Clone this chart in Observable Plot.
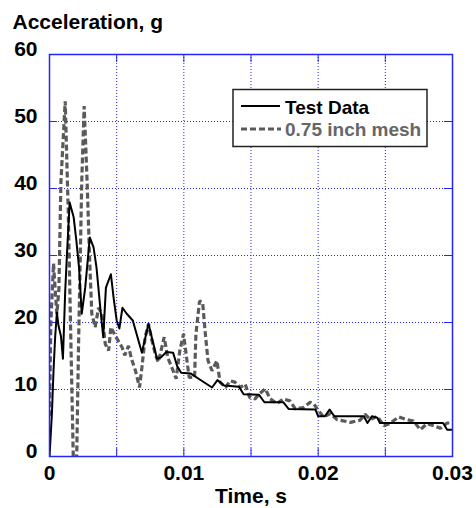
<!DOCTYPE html>
<html><head><meta charset="utf-8">
<script src="https://cdn.jsdelivr.net/npm/d3@7"></script>
<script src="https://cdn.jsdelivr.net/npm/@observablehq/plot@0.6"></script>
<style>body{margin:0;background:#fff;color:#000}</style>
</head><body><div id="chart"></div>
<script>
// Test Data (solid black)
const testTime = [0,0.00018,0.0003,0.00042,0.00055,0.00067,0.00085,0.001,0.00117,0.0013,0.0015,0.0018,0.002,0.0022,0.0024,0.00266,0.003,0.00328,0.0035,0.00378,0.004,0.0042,0.00457,0.00477,0.005,0.0052,0.00543,0.00575,0.0062,0.00688,0.00737,0.008,0.0083,0.0087,0.0092,0.0095,0.0098,0.0105,0.0111,0.0121,0.0125,0.013,0.0141,0.01445,0.0156,0.016,0.0174,0.0178,0.0198,0.02,0.0205,0.02085,0.0212,0.0234,0.02367,0.024,0.0244,0.0246,0.0293,0.0296,0.03];
const testAccel = [0,6.4,12.8,17.8,21.5,19.5,18,14.6,24.7,30.2,37.9,35.7,32.2,28.2,21.3,25.2,32.7,31.2,28.2,22.2,17.8,25.2,27.2,23.7,20.3,19.1,22.2,21.3,20.3,15.5,19.8,14.6,14.8,15.6,15.5,13.5,12.5,12.4,11.6,10.3,11.4,10.6,10.4,9.3,9.2,8.1,8.1,7.1,7.0,6.0,6.0,7.0,6.0,6.0,5.0,6.0,5.8,5.0,5.0,4.0,4.0];
// 0.75 inch mesh (dashed gray)
const meshTime = [0,0.0001,0.0003,0.00045,0.00055,0.0007,0.00085,0.00117,0.0014,0.0016,0.0018,0.002,0.00216,0.0024,0.00258,0.0028,0.003,0.00315,0.0034,0.00365,0.0039,0.00415,0.0044,0.00457,0.0049,0.0054,0.0056,0.00588,0.0061,0.0064,0.0067,0.00688,0.00712,0.00737,0.0076,0.0079,0.0081,0.00854,0.0088,0.0092,0.00943,0.0097,0.00998,0.0102,0.0104,0.0108,0.0109,0.01117,0.0114,0.0116,0.0118,0.0121,0.01246,0.0127,0.0131,0.01345,0.0138,0.0142,0.01457,0.0149,0.0153,0.0156,0.01606,0.01643,0.01693,0.0174,0.0179,0.0183,0.0189,0.0194,0.0197,0.02,0.0204,0.0209,0.0214,0.0224,0.0231,0.0235,0.0239,0.0244,0.0249,0.0253,0.026,0.0266,0.0271,0.0276,0.0281,0.0286,0.0291,0.0296,0.03];
const meshAccel = [6,20,28.8,24,21.3,25,41,53,36.2,16.3,-3,-3,16.3,41,52.3,41,28.8,21.3,19.3,22.2,21.3,16.8,15.8,19.3,18.0,16.3,15.1,16.5,14.6,12.8,10.3,13.3,17.8,19.8,17.5,15.1,14.1,17.8,14.8,12.8,11.6,15.8,18.3,14.8,11.8,11.8,18.3,23.2,23.0,18.3,14.3,12.8,14.3,11.1,10.3,11.3,11.1,10.3,10.8,8.8,8.6,9.3,10.1,8.6,7.9,8.6,8.3,7.1,7.3,8.1,7.8,6.9,5.9,6.4,5.5,5.1,5.4,6.3,5.5,6.0,4.6,4.9,5.9,5.5,5.3,4.0,4.9,4.6,4.2,5.0,5.0];
const xGrid = [0,0.005,0.01,0.015,0.02,0.025,0.03];
const xLabelTicks = [0,0.01,0.02,0.03];
const xLabelText = ["0","0.01","0.02","0.03"];
const yTicks = [0,10,20,30,40,50,60];
const seriesNames = ["Test Data","0.75 inch mesh"];

const test = testTime.map((t,i)=>({t, a:testAccel[i]}));
const mesh = meshTime.map((t,i)=>({t, a:meshAccel[i]}));

const BLUE = "#2424ff";
const GRAY = "#5a5a5a";
const FONT = "'Liberation Sans', Arial, sans-serif";
const W = 476, H = 508, ML = 49, MR = 24, MT = 54, MB = 52;
const PW = W-ML-MR, PH = H-MT-MB, TK = 8;

const chart = Plot.plot({
  width: W, height: H,
  marginLeft: ML, marginRight: MR, marginTop: MT, marginBottom: MB,
  style: {fontFamily: FONT, background: "#fff", color: "#000"},
  x: {domain: [0,0.03]},
  y: {domain: [0,60]},
  marks: [
    Plot.gridX(xGrid, {stroke: BLUE, strokeOpacity: 1, strokeDasharray: "1,2", strokeWidth: 1}),
    Plot.gridY(yTicks, {stroke: BLUE, strokeOpacity: 1, strokeDasharray: "1,2", strokeWidth: 1}),
    Plot.tickY(yTicks, {y: d=>d, stroke: BLUE, insetRight: PW-TK}),
    Plot.tickY(yTicks, {y: d=>d, stroke: BLUE, insetLeft: PW-TK}),
    Plot.tickX(xGrid, {x: d=>d, stroke: BLUE, insetBottom: PH-TK}),
    Plot.tickX(xGrid, {x: d=>d, stroke: BLUE, insetTop: PH-TK}),
    Plot.line(mesh, {x: "t", y: "a", stroke: GRAY, strokeWidth: 3.2, strokeDasharray: "6,3", strokeLinecap: "butt", strokeLinejoin: "miter", clip: true}),
    Plot.line(test, {x: "t", y: "a", stroke: "#000", strokeWidth: 2, clip: true}),
    Plot.frame({stroke: BLUE, strokeWidth: 1.5}),
    Plot.axisY(yTicks, {tickSize: 0, tickPadding: 12, fontSize: 21, fontWeight: "bold", dy: -5, label: null}),
    Plot.axisX(xLabelTicks, {tickSize: 0, tickPadding: 9, fontSize: 21, fontWeight: "bold", label: null, tickFormat: d=>xLabelText[xLabelTicks.indexOf(d)]}),
    Plot.text(["Acceleration, g"], {text: d=>d, frameAnchor: "top-left", dx: -37, dy: -32, textAnchor: "start", lineAnchor: "middle", fontSize: 21, fontWeight: "bold"}),
    Plot.text(["Time, s"], {text: d=>d, frameAnchor: "bottom", dy: 40, lineAnchor: "middle", fontSize: 21, fontWeight: "bold"})
  ]
});
document.getElementById("chart").appendChild(chart);

// legend
const svg = d3.select(chart);
const lg = svg.append("g").attr("font-family", FONT).attr("font-weight", "bold").attr("font-size", 19).attr("text-anchor", "start");
lg.append("rect").attr("x", 233).attr("y", 89.5).attr("width", 194).attr("height", 57)
  .attr("fill", "#fff").attr("stroke", "#222").attr("stroke-width", 1.5);
lg.append("line").attr("x1", 241).attr("x2", 280).attr("y1", 106).attr("y2", 106).attr("stroke", "#000").attr("stroke-width", 2);
lg.append("text").attr("x", 285).attr("y", 114).attr("text-anchor", "start").attr("fill", "#000").text(seriesNames[0]);
lg.append("line").attr("x1", 241).attr("x2", 281).attr("y1", 129).attr("y2", 129).attr("stroke", GRAY).attr("stroke-width", 3.2).attr("stroke-dasharray", "6,3");
lg.append("text").attr("x", 285).attr("y", 136).attr("text-anchor", "start").attr("fill", "#666").text(seriesNames[1]);
</script></body></html>
